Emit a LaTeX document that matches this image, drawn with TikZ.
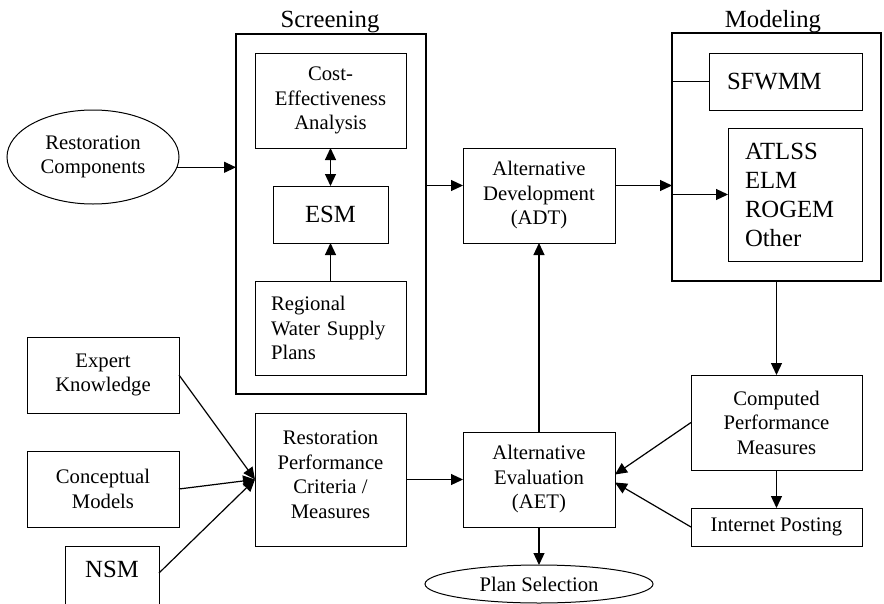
\documentclass[tikz,border=0pt]{standalone}
\usepackage{fontspec}
\setmainfont{Liberation Serif}
\usetikzlibrary{arrows.meta,shapes.geometric}
\begin{document}
\begin{tikzpicture}[x=1pt,y=-1pt,
  every node/.style={inner sep=0pt, outer sep=0pt, font=\fontsize{20.7}{24.5}\selectfont},
  box/.style={draw, line width=1pt, align=center},
  frame/.style={draw, line width=2pt},
  oval/.style={draw, ellipse, line width=1pt, align=center},
  big/.style={font=\fontsize{24.7}{29}\selectfont},
  arr/.style={line width=1.2pt, -{Triangle[length=12pt,width=11pt]}},
  twoway/.style={line width=1.2pt, {Triangle[length=12pt,width=11pt]}-{Triangle[length=12pt,width=11pt]}},
  link/.style={line width=1.2pt},
]
\useasboundingbox (0,0) rectangle (884,603);

% group frames and their headings
\node[frame, minimum width=190pt, minimum height=360pt] (scr) at (331,214) {};
\node[frame, minimum width=209pt, minimum height=248pt] (mod) at (776.5,157) {};
\node[big, anchor=base] (scrt) at (330,27) {Screening};
\node[big, anchor=base] (modt) at (773,27) {Modeling};

% screening stage
\node[oval, minimum width=172pt, minimum height=94pt] (rc) at (93,157) {Restoration\\Components};
\node[box, minimum width=151pt, minimum height=95pt] (cea) at (330.5,100.5) {Cost-\\Effectiveness\\Analysis};
\node[box, big, minimum width=115pt, minimum height=57pt] (esm) at (330.5,214.5) {ESM};
\node[box, align=left, text width=119pt, inner xsep=16pt, minimum height=94pt] (rws) at (330.5,328) {Regional\\Water Supply\\Plans};

% development and modeling
\node[box, minimum width=152pt, minimum height=95pt] (adt) at (539,195.5) {Alternative\\Development\\(ADT)};
\node[box, big, align=left, text width=117pt, inner xsep=18pt, minimum height=57pt] (sf) at (785.5,81.5) {SFWMM};
\node[box, big, align=left, text width=100pt, inner xsep=17pt, minimum height=133pt] (atl) at (795,194.5) {ATLSS\\ELM\\ROGEM\\Other};

% evaluation
\node[box, minimum width=171pt, minimum height=95pt] (cpm) at (776.5,422.5) {Computed\\Performance\\Measures};
\node[box, minimum width=171pt, minimum height=38pt] (ip) at (776.5,527) {Internet Posting};
\node[box, minimum width=152pt, minimum height=95pt] (aet) at (539,479.5) {Alternative\\Evaluation\\(AET)};
\node[box, minimum width=151pt, minimum height=133pt, text depth=10pt] (rpm) at (330.5,479.5) {Restoration\\Performance\\Criteria /\\Measures};
\node[box, minimum width=152pt, minimum height=76pt] (exp) at (103,375) {Expert\\Knowledge};
\node[box, minimum width=152pt, minimum height=76pt] (cm) at (103,489) {Conceptual\\Models};
\node[box, big, minimum width=94pt, minimum height=66pt, text height=18pt, text depth=22pt] (nsm) at (112,579) {NSM};
\node[oval, minimum width=228pt, minimum height=38pt] (ps) at (539,584) {Plan Selection};

% connectors
\coordinate (adtin) at ([yshift=10pt]adt.west);
\coordinate (adtout) at ([yshift=10pt]adt.east);
\draw[arr] (rc.-7) -- (rc.-7 -| scr.west);
\draw[twoway] (cea.south) -- (esm.north);
\draw[arr] (rws.north) -- (esm.south);
\draw[arr] (scr.east |- adtin) -- (adtin);
\draw[arr] (adtout) -- (mod.west |- adtout);
\draw[link] (mod.west |- sf.west) -- (sf.west);
\draw[arr] (mod.west |- atl.west) -- (atl.west);
\draw[arr] (mod.south -| cpm.north) -- (cpm.north);
\draw[arr] (cpm.south) -- (ip.north);
\draw[arr] (cpm.west) -- ([yshift=5pt]aet.east);
\draw[arr] (ip.west) -- ([yshift=-3pt]aet.east);
\draw[arr] (aet.north) -- (adt.south);
\draw[arr] (aet.south) -- (ps.north);
\draw[arr] (rpm.east) -- (aet.west);
\draw[arr] (exp.east) -- (rpm.west);
\draw[arr] (cm.east) -- (rpm.west);
\draw[arr] ([yshift=6pt]nsm.east) -- (rpm.west);
\end{tikzpicture}
\end{document}
